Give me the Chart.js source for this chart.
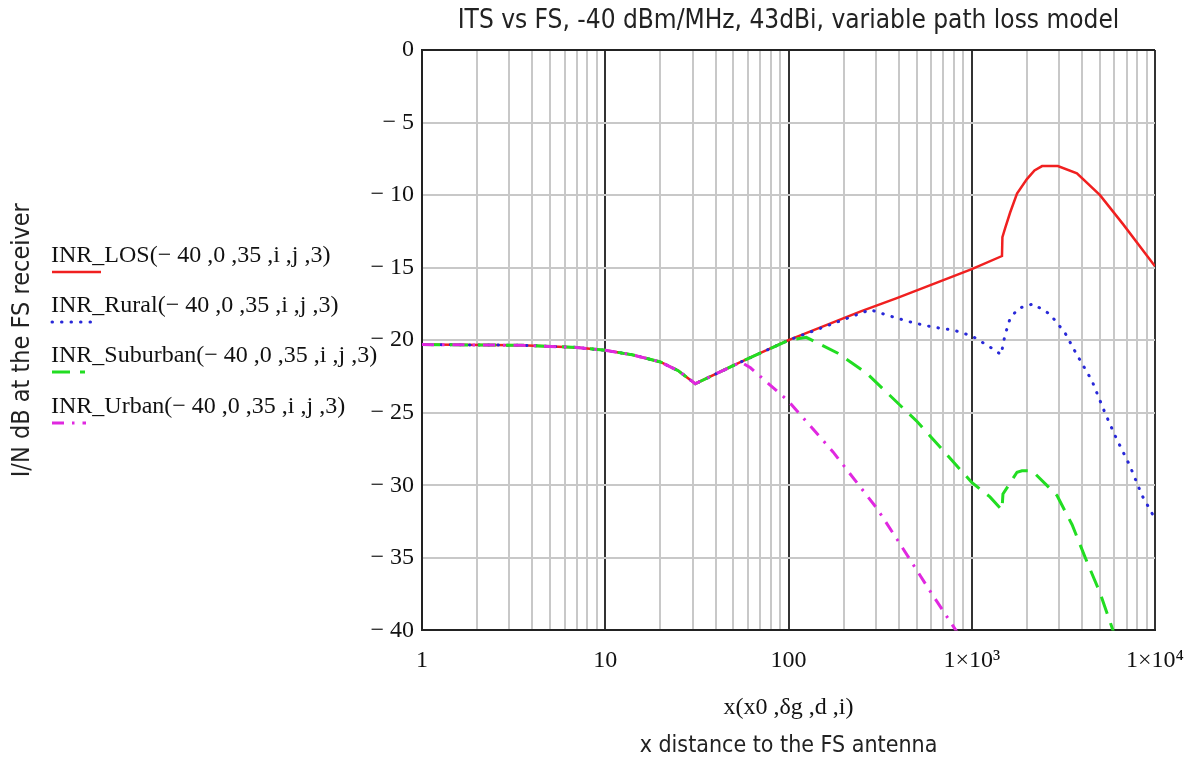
<!DOCTYPE html>
<html>
<head>
<meta charset="utf-8">
<script src="https://cdn.jsdelivr.net/npm/chart.js@4.4.1/dist/chart.umd.min.js"></script>
<style>
  html, body { margin: 0; padding: 0; background: #fff; }
  #wrap { width: 1191px; height: 763px; }
</style>
</head>
<body>
<div id="wrap"><canvas id="inr" width="1191" height="763"></canvas></div>
<script>
// distance to the FS antenna and I/N in dB, one pair of arrays per path loss model
const losX = [1, 3.5, 7, 10, 14, 20, 25, 31, 55, 100, 250, 390, 1000, 1462, 1470, 1520, 1620, 1766, 2000, 2200, 2420, 2950, 3750, 5010, 6690, 10000];
const losY = [-20.3, -20.35, -20.5, -20.7, -21.0, -21.5, -22.1, -23.0, -21.5, -20.0, -18.0, -17.1, -15.1, -14.2, -12.9, -12.3, -11.2, -9.9, -8.9, -8.3, -8.0, -8.0, -8.5, -10.0, -12.0, -14.9];

const ruralX = [1, 3.5, 7, 10, 14, 20, 25, 31, 55, 100, 279, 372, 479, 616, 792, 1000, 1306, 1446, 1515, 1618, 1800, 2160, 2670, 3230, 3670, 4530, 5330, 6170, 7260, 8500, 10000];
const ruralY = [-20.3, -20.35, -20.5, -20.7, -21.0, -21.5, -22.1, -23.0, -21.5, -20.0, -17.9, -18.4, -18.8, -19.1, -19.3, -19.7, -20.6, -21.0, -19.7, -18.5, -17.8, -17.5, -18.2, -19.5, -20.8, -22.8, -25.0, -26.8, -28.6, -30.7, -32.3];

const suburbanX = [1, 3.5, 7, 10, 14, 20, 25, 31, 55, 100, 125, 186, 268, 503, 1000, 1257, 1462, 1480, 1766, 1880, 2135, 2918, 3524, 4260, 5010, 5900, 6500];
const suburbanY = [-20.3, -20.35, -20.5, -20.7, -21.0, -21.5, -22.1, -23.0, -21.5, -20.0, -19.8, -20.9, -22.3, -25.6, -29.8, -30.8, -31.7, -30.6, -29.1, -29.0, -29.0, -30.7, -32.7, -35.3, -37.4, -40.0, -41.5];

const urbanX = [1, 3.5, 7, 10, 14, 20, 25, 31, 55, 62, 100, 175, 304, 390, 600, 820, 1000];
const urbanY = [-20.3, -20.35, -20.5, -20.7, -21.0, -21.5, -22.1, -23.0, -21.5, -21.9, -24.2, -27.7, -31.6, -33.7, -37.4, -40.0, -41.7];

const seriesNames = [
  'INR_LOS(− 40 ,0 ,35 ,i ,j ,3)',
  'INR_Rural(− 40 ,0 ,35 ,i ,j ,3)',
  'INR_Suburban(− 40 ,0 ,35 ,i ,j ,3)',
  'INR_Urban(− 40 ,0 ,35 ,i ,j ,3)'
];

// axis ticks
const decades = [1, 10, 100, 1000, 10000];
const decadeLabels = ['1', '10', '100', '1×10³', '1×10⁴'];
const yMin = -40, yMax = 0, yStep = 5;

const serif = "'Liberation Serif', 'Times New Roman', serif";
const narrow = "'Liberation Sans Narrow', 'Arial Narrow', 'DejaVu Sans Condensed', sans-serif";

const pts = (xs, ys) => xs.map((x, i) => ({ x: x, y: ys[i] }));

// every 1..9 multiple inside each decade gets a grid line
const gridValues = [];
decades.slice(0, -1).forEach(d => { for (let k = 1; k < 10; k++) gridValues.push(d * k); });
gridValues.push(decades[decades.length - 1]);

// Mathcad style legend: name on one line, line sample underneath
const sideLegend = {
  id: 'sideLegend',
  afterDraw(chart) {
    const ctx = chart.ctx;
    const rows = [262, 312, 362, 413];
    const sample = [49, 40, 33, 34];
    ctx.save();
    chart.data.datasets.forEach((ds, i) => {
      ctx.font = '24px ' + serif;
      ctx.fillStyle = '#111';
      ctx.textBaseline = 'alphabetic';
      ctx.textAlign = 'left';
      ctx.fillText(ds.label, 51, rows[i]);
      ctx.strokeStyle = ds.borderColor;
      ctx.lineWidth = ds.borderWidth;
      ctx.lineCap = ds.borderCapStyle || 'butt';
      ctx.setLineDash(ds.borderDash || []);
      ctx.beginPath();
      ctx.moveTo(52, rows[i] + 10);
      ctx.lineTo(52 + sample[i], rows[i] + 10);
      ctx.stroke();
    });
    ctx.restore();
  }
};

new Chart(document.getElementById('inr'), {
  type: 'line',
  data: {
    datasets: [
      { label: seriesNames[0], data: pts(losX, losY), borderColor: '#f02020', borderWidth: 2.5, order: 4 },
      { label: seriesNames[1], data: pts(ruralX, ruralY), borderColor: '#2828d8', borderWidth: 3, borderDash: [0.5, 9], borderCapStyle: 'round', order: 3 },
      { label: seriesNames[2], data: pts(suburbanX, suburbanY), borderColor: '#22dd22', borderWidth: 3, borderDash: [18, 10], order: 2 },
      { label: seriesNames[3], data: pts(urbanX, urbanY), borderColor: '#e028e0', borderWidth: 3, borderDash: [12, 8, 2.5, 8], order: 1 }
    ]
  },
  options: {
    responsive: false,
    animation: false,
    layout: { padding: 0 },
    elements: { point: { radius: 0 }, line: { tension: 0, fill: false } },
    datasets: { line: { clip: 0 } },
    plugins: {
      legend: { display: false },
      tooltip: { enabled: false },
      title: {
        display: true,
        fullSize: false,
        text: 'ITS vs FS, -40 dBm/MHz, 43dBi, variable path loss model',
        color: '#222',
        font: { family: narrow, size: 26, weight: 'normal' },
        padding: { top: 6, bottom: 12.8 }
      },
      subtitle: {
        display: true,
        fullSize: false,
        position: 'bottom',
        text: 'x distance to the FS antenna',
        color: '#222',
        font: { family: narrow, size: 23, weight: 'normal' },
        padding: { top: 6, bottom: 3 }
      }
    },
    scales: {
      x: {
        type: 'logarithmic',
        min: decades[0],
        max: decades[decades.length - 1],
        afterBuildTicks: s => { s.ticks = gridValues.map(v => ({ value: v })); },
        afterFit: s => { s.height = 96; s.paddingRight = 36; },
        ticks: {
          autoSkip: false,
          maxRotation: 0,
          padding: 16,
          color: '#111',
          font: { family: serif, size: 24 },
          callback: v => {
            const i = decades.indexOf(v);
            return i >= 0 ? decadeLabels[i] : '';
          }
        },
        grid: {
          drawTicks: false,
          lineWidth: 2,
          color: c => decades.includes(c.tick.value) ? '#333' : '#c8c8c8'
        },
        border: { display: true, color: '#222', width: 2 },
        title: {
          display: true,
          text: 'x(x0 ,δg ,d ,i)',
          color: '#111',
          font: { family: serif, size: 24 },
          padding: { top: 0, bottom: 4 }
        }
      },
      y: {
        min: yMin,
        max: yMax,
        afterFit: s => { s.width = 422; },
        ticks: {
          stepSize: yStep,
          padding: 8,
          color: '#111',
          font: { family: serif, size: 24 },
          callback: v => v === 0 ? '0' : '− ' + Math.abs(v)
        },
        grid: {
          drawTicks: false,
          lineWidth: 2,
          color: c => c.tick.value === yMax ? '#222' : '#c8c8c8'
        },
        border: { display: true, color: '#222', width: 2 },
        title: {
          display: true,
          text: 'I/N dB at the FS receiver',
          color: '#222',
          font: { family: narrow, size: 25 },
          padding: { top: 7, bottom: 0 }
        }
      }
    }
  },
  plugins: [sideLegend]
});
</script>
</body>
</html>
